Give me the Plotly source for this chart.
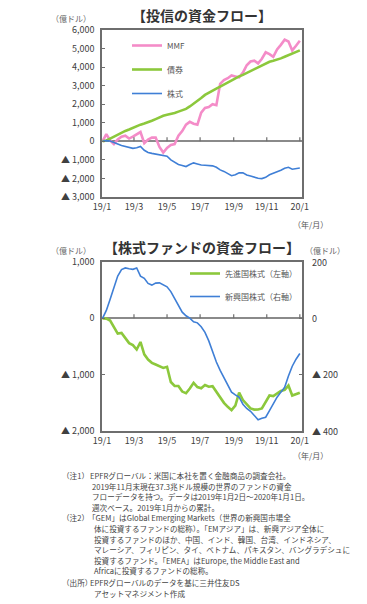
import pandas as pd
import plotly.graph_objects as go

W, H = 367, 604

# ---- data ----
dates = pd.date_range("2019-01-02", periods=53, freq="7D")

mmf = [0, 390, 50, -150, 100, 250, 300, 150, 250, 400,
       500, -100, 100, 200, 200, -300, -600, -350, -200, -150,
       300, 550, 900, 1050, 950, 900, 1550, 1800, 1850, 2000,
       1950, 3100, 3300, 3400, 3550, 3500, 3450, 3700, 4100, 4300,
       4350, 4200, 4450, 4800, 4700, 4550, 4950, 5200, 5480, 5380,
       4900, 5150, 5420]
bond = [0, 50, 150, 260, 380, 460, 560, 640, 730, 830,
        900, 960, 1020, 1110, 1200, 1300, 1380, 1430, 1470, 1530,
        1600, 1670, 1750, 1880, 2020, 2200, 2330, 2500, 2600, 2730,
        2840, 2950, 3060, 3190, 3310, 3420, 3500, 3580, 3680, 3790,
        3880, 3990, 4090, 4190, 4290, 4340, 4390, 4470, 4560, 4650,
        4730, 4810, 4900]
equity = [0, 40, 20, -80, -140, -220, -260, -320, -380, -350,
          -280, -480, -600, -650, -690, -710, -740, -800, -1000, -1120,
          -1250, -1300, -1360, -1250, -1160, -1220, -1280, -1290, -1300, -1320,
          -1400, -1540, -1620, -1720, -1850, -1800, -1700, -1700, -1810, -1870,
          -1940, -1990, -2010, -1940, -1800, -1720, -1670, -1560, -1450, -1400,
          -1500, -1460, -1440]

developed = [0, -5, -40, -150, -270, -260, -350, -440, -475, -554,
             -420, -640, -732, -790, -820, -850, -880, -860, -1130, -1200,
             -1200, -1300, -1330, -1246, -1145, -1220, -1240, -1185, -1215, -1205,
             -1300, -1410, -1500, -1570, -1630, -1550, -1320, -1450, -1530, -1600,
             -1620, -1618, -1600, -1480, -1370, -1380, -1330, -1290, -1270, -1193,
             -1370, -1340, -1320]
emerging = [0, 28, 68, 108, 150, 173, 179, 176, 174, 179,
            150, 142, 124, 118, 125, 126, 120, 112, 95, 72,
            48, 22, 9, 1, -12, -16, -30, -50, -80, -118,
            -155, -185, -210, -232, -262, -272, -280, -305, -320, -330,
            -345, -360, -355, -351, -328, -303, -280, -262, -245, -205,
            -170, -145, -125]

tick_dates = ["2019-01-01", "2019-03-01", "2019-05-01", "2019-07-01",
              "2019-09-01", "2019-11-01", "2020-01-01"]
tick_labels = ["19/1", "19/3", "19/5", "19/7", "19/9", "19/11", "20/1"]

y1_vals = [-3000, -2000, -1000, 0, 1000, 2000, 3000, 4000, 5000, 6000]
y1_text = ["▲ 3,000", "▲ 2,000", "▲ 1,000", "0", "1,000", "2,000",
           "3,000", "4,000", "5,000", "6,000"]
y2_vals = [-2000, -1000, 0, 1000]
y2_text = ["▲ 2,000", "▲ 1,000", "0", "1,000"]
y3_vals = [-400, -200, 0, 200]
y3_text = ["▲ 400", "▲ 200", "0", "200"]

notes = [
    (60, 475, "（注1）"),
    (88, 475, "EPFRグローバル：米国に本社を置く金融商品の調査会社。"),
    (90, 486, "2019年11月末現在37.3兆ドル規模の世界のファンドの資金"),
    (90, 496.5, "フローデータを持つ。データは2019年1月2日～2020年1月1日。"),
    (90, 507, "週次ベース。2019年1月からの累計。"),
    (60, 517.5, "（注2）"),
    (86, 517.5, "「GEM」はGlobal Emerging Markets（世界の新興国市場全"),
    (92, 528, "体に投資するファンドの総称）。「EMアジア」は、新興アジア全体に"),
    (92, 539, "投資するファンドのほか、中国、インド、韓国、台湾、インドネシア、"),
    (92, 549.5, "マレーシア、フィリピン、タイ、ベトナム、パキスタン、バングラデシュに"),
    (92, 560, "投資するファンド。「EMEA」はEurope, the Middle East and"),
    (92, 570.5, "Africaに投資するファンドの総称。"),
    (60, 582, "（出所）"),
    (88, 582, "EPFRグローバルのデータを基に三井住友DS"),
    (92, 593, "アセットマネジメント作成"),
]

PINK = "#F48CC8"
GREEN = "#8CC83C"
BLUE = "#3F7FD6"
FONT = "Noto Sans CJK JP"
TXT = "#404040"

def px(x):
    return x / W

def py(y):
    return 1 - y / H

fig = go.Figure()
fig.add_trace(go.Scatter(x=dates, y=mmf, name="MMF", mode="lines",
                         line=dict(color=PINK, width=2.6), xaxis="x", yaxis="y",
                         legend="legend", legendgroup="a"))
fig.add_trace(go.Scatter(x=dates, y=bond, name="債券", mode="lines",
                         line=dict(color=GREEN, width=2.6), xaxis="x", yaxis="y",
                         legend="legend", legendgroup="b"))
fig.add_trace(go.Scatter(x=dates, y=equity, name="株式", mode="lines",
                         line=dict(color=BLUE, width=1.6), xaxis="x", yaxis="y",
                         legend="legend", legendgroup="c"))
fig.add_trace(go.Scatter(x=dates, y=developed, name="先進国株式（左軸）", mode="lines",
                         line=dict(color=GREEN, width=2.6), xaxis="x2", yaxis="y2",
                         legend="legend2", legendgroup="d"))
fig.add_trace(go.Scatter(x=dates, y=emerging, name="新興国株式（右軸）", mode="lines",
                         line=dict(color=BLUE, width=1.6), xaxis="x2", yaxis="y3",
                         legend="legend2", legendgroup="e"))

xdom = [px(102), px(302)]
d1 = [py(197), py(30)]
d2 = [py(431), py(262)]
xr = ["2019-01-01", "2020-01-05"]

common_x = dict(range=xr, domain=xdom, tickmode="array", tickvals=tick_dates,
                ticktext=tick_labels, ticks="", showgrid=False, zeroline=False,
                showline=True, linecolor="#6e6e6e", linewidth=1.5, mirror=True,
                tickfont=dict(family=FONT, size=9, color=TXT), automargin=False)
common_y = dict(showgrid=False, showline=True, linecolor="#6e6e6e", linewidth=1.5,
                mirror=True, ticks="inside", ticklen=3, tickcolor="#6e6e6e",
                zeroline=True, zerolinecolor="#8a8a8a", zerolinewidth=2,
                tickfont=dict(family=FONT, size=9, color=TXT), automargin=False,
                tickmode="array", ticklabelstandoff=4)

fig.update_layout(
    width=W, height=H, margin=dict(l=0, r=0, t=0, b=0),
    paper_bgcolor="white", plot_bgcolor="white",
    font=dict(family=FONT, color=TXT),
    xaxis=dict(anchor="y", **common_x),
    yaxis=dict(domain=d1, range=[-3000, 6000], tickvals=y1_vals, ticktext=y1_text,
               anchor="x", **common_y),
    xaxis2=dict(anchor="y2", **common_x),
    yaxis2=dict(domain=d2, range=[-2000, 1000], tickvals=y2_vals, ticktext=y2_text,
                anchor="x2", **common_y),
    yaxis3=dict(domain=d2, range=[-400, 200], tickvals=y3_vals,
                tickmode="array", overlaying="y2", side="right", anchor="x2",
                showgrid=False, showline=False, ticks="inside", ticklen=3,
                tickcolor="#6e6e6e", zeroline=False, showticklabels=False,
                automargin=False),
    legend=dict(x=px(127), y=py(31), xanchor="left", yanchor="top",
                bgcolor="rgba(0,0,0,0)", font=dict(family=FONT, size=8, color="#555"),
                tracegroupgap=5, itemwidth=30, traceorder="grouped"),
    legend2=dict(x=px(185), y=py(259), xanchor="left", yanchor="top",
                 bgcolor="rgba(0,0,0,0)", font=dict(family=FONT, size=8, color="#555"),
                 tracegroupgap=4, itemwidth=30, traceorder="grouped"),
    showlegend=True,
)

# tick marks on the zero lines
shapes = []
for xa, ya in (("x", "y"), ("x2", "y2")):
    for d in tick_dates[1:]:
        shapes.append(dict(type="line", xref=xa, yref=ya, x0=d, x1=d,
                           ysizemode="pixel", yanchor=0, y0=0, y1=4,
                           line=dict(color="#6e6e6e", width=1.2)))
fig.update_layout(shapes=shapes)

ann = []
# right-axis tick labels, placed through the y3 scale
for v, t in zip(y3_vals, y3_text):
    ann.append(dict(x=px(310), y=v, yref="y3", text=t, xanchor="left",
                    font=dict(family=FONT, size=9, color=TXT)))
ann.append(dict(x=px(202), y=py(15), text="<b>【投信の資金フロー】</b>",
                font=dict(family=FONT, size=14, color="#333")))
ann.append(dict(x=px(202), y=py(247), text="<b>【株式ファンドの資金フロー】</b>",
                font=dict(family=FONT, size=14, color="#333")))
for (x, y, t) in [(93, 18, "（億ドル）"), (93, 250, "（億ドル）")]:
    ann.append(dict(x=px(x), y=py(y), text=t, xanchor="right",
                    font=dict(family=FONT, size=8, color="#666")))
ann.append(dict(x=px(303), y=py(250), text="（億ドル）", xanchor="left",
                font=dict(family=FONT, size=8, color="#666")))
for y in (224, 455):
    ann.append(dict(x=px(310), y=py(y), text="（年/月）",
                    font=dict(family=FONT, size=8, color="#555")))
for (x, y, t) in notes:
    ann.append(dict(x=px(x), y=py(y), text=t, xanchor="left",
                    font=dict(family=FONT, size=7.6, color="#444")))
for a in ann:
    a.update(xref="paper", showarrow=False,
             yref=a.get("yref", "paper"),
             yanchor=a.get("yanchor", "middle"), xanchor=a.get("xanchor", "center"))
fig.update_layout(annotations=ann)

fig.write_html("out.html", config={"displayModeBar": False},
               post_script="document.body.style.margin='0';document.body.style.padding='0';")
